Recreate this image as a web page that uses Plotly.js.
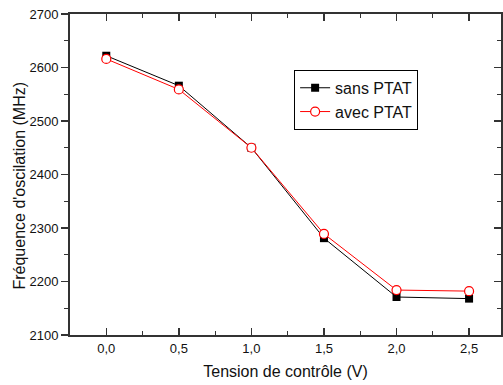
<!DOCTYPE html>
<html><head><meta charset="utf-8">
<script src="https://cdn.plot.ly/plotly-3.0.1.min.js"></script>
<style>body{margin:0;background:#fff}#c{width:503px;height:385px}</style>
</head><body><div id="c"></div>
<script>
const tension = [0.0, 0.5, 1.0, 1.5, 2.0, 2.5];
const sansPTAT = [2622, 2566, 2450, 2281, 2171, 2168];
const avecPTAT = [2616, 2559, 2450, 2289, 2184, 2182];
const seriesNames = ["sans PTAT", "avec PTAT"];
const xTickVals = [0.0, 0.5, 1.0, 1.5, 2.0, 2.5];
const yTickVals = [2100, 2200, 2300, 2400, 2500, 2600, 2700];
const xTitle = "Tension de contrôle (V)";
const yTitle = "Fréquence d'oscilation (MHz)";

const font = "Liberation Sans, Arial, sans-serif";
const axCol = "#333";

const traces = [
  {x: tension, y: sansPTAT, name: seriesNames[0], mode: "lines+markers", type: "scatter",
   line: {color: "#000", width: 1},
   marker: {symbol: "square", size: 8, color: "#000"}},
  {x: tension, y: avecPTAT, name: seriesNames[1], mode: "lines+markers", type: "scatter",
   line: {color: "#ff0000", width: 1},
   marker: {symbol: "circle", size: 9, color: "#fff", line: {color: "#ff0000", width: 1.2}}},
  {x: [tension[0]], y: [sansPTAT[0]], yaxis: "y2", showlegend: false, hoverinfo: "skip",
   mode: "markers", marker: {opacity: 0}}
];

const layout = {
  width: 503, height: 385,
  margin: {l: 70, r: 2, t: 14, b: 50},
  paper_bgcolor: "#fff", plot_bgcolor: "#fff",
  separators: ", ",
  showlegend: true,
  font: {family: font, size: 13, color: "#111"},
  xaxis: {
    range: [-0.25, 2.72], tickvals: xTickVals, ticktext: xTickVals.map(v => v.toFixed(1).replace(".", ",")),
    ticks: "inside", ticklen: 7, tickwidth: 1.5, tickcolor: axCol,
    minor: {dtick: 0.25, tick0: 0, ticks: "inside", ticklen: 4, tickwidth: 1.2, tickcolor: axCol},
    showline: true, linecolor: axCol, linewidth: 2, mirror: "ticks",
    showgrid: false, zeroline: false,
    tickfont: {size: 13, family: font, color: "#111"},
    title: {text: xTitle, font: {size: 16, family: font, color: "#111"}, standoff: 11}
  },
  yaxis: {
    range: [2100, 2700], tickvals: yTickVals,
    ticks: "outside", ticklen: 7, tickwidth: 1.5, tickcolor: axCol,
    minor: {dtick: 50, tick0: 2100, ticks: "outside", ticklen: 4, tickwidth: 1.2, tickcolor: axCol},
    showline: true, linecolor: axCol, linewidth: 2, mirror: true,
    showgrid: false, zeroline: false,
    tickfont: {size: 13, family: font, color: "#111"}
  },
  yaxis2: {
    overlaying: "y", side: "right", range: [2100, 2700], tickvals: yTickVals, showticklabels: false,
    ticks: "inside", ticklen: 7, tickwidth: 1.5, tickcolor: axCol,
    minor: {dtick: 50, tick0: 2100, ticks: "inside", ticklen: 4, tickwidth: 1.2, tickcolor: axCol},
    showgrid: false, zeroline: false, showline: false
  },
  annotations: [{
    text: yTitle, textangle: -90, xref: "paper", yref: "paper",
    x: -0.118, y: 0.466, xanchor: "center", yanchor: "middle", showarrow: false,
    font: {size: 16, family: font, color: "#111"}
  }],
  legend: {
    x: 0.52, y: 0.826, xanchor: "left", yanchor: "top",
    bordercolor: "#000", borderwidth: 1, bgcolor: "#fff",
    font: {size: 16, family: font, color: "#111"},
    traceorder: "normal", tracegroupgap: 0, itemwidth: 30
  }
};

Plotly.newPlot("c", traces, layout, {staticPlot: true, displayModeBar: false});
</script></body></html>
